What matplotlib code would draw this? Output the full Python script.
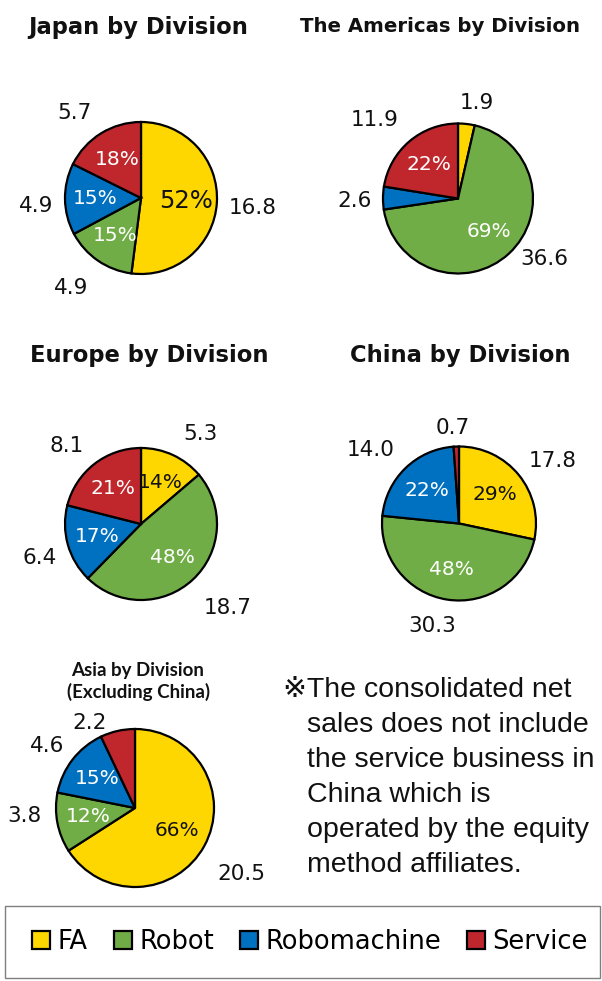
import numpy as np
import matplotlib.pyplot as plt
from matplotlib.patches import Rectangle

# Sales by division (FA, Robot, Robomachine, Service), clockwise from 12 o'clock
divisions = ['FA', 'Robot', 'Robomachine', 'Service']
colors = ['#FFD700', '#70AD47', '#0070C0', '#C0272D']

japan = [16.8, 4.9, 4.9, 5.7]
japan_pct = ['52%', '15%', '15%', '18%']
americas = [1.9, 36.6, 2.6, 11.9]
americas_pct = ['', '69%', '', '22%']
europe = [5.3, 18.7, 6.4, 8.1]
europe_pct = ['14%', '48%', '17%', '21%']
china = [17.8, 30.3, 14.0, 0.7]
china_pct = ['29%', '48%', '22%', '']
asia = [20.5, 3.8, 4.6, 2.2]
asia_pct = ['66%', '12%', '15%', '']

note_lines = ['※The consolidated net', 'sales does not include',
              'the service business in', 'China which is',
              'operated by the equity', 'method affiliates.']

W, H = 602, 981
fig = plt.figure(figsize=(W / 100, H / 100), dpi=100)


def fx(x):
    return x / W


def fy(y):
    return 1 - y / H


def draw_pie(vals, pcts, cx, cy, r, nudge, big_first=False):
    # nudge: pixel shifts (right, down) of the value labels, Excel-like placement
    ax = fig.add_axes([fx(cx - r), fy(cy + r), 2 * r / W, 2 * r / H])
    wedges, _ = ax.pie(vals, colors=colors, startangle=90, counterclock=False,
                       wedgeprops=dict(edgecolor='black', linewidth=1.6))
    ax.set_xlim(-1, 1)
    ax.set_ylim(-1, 1)
    ax.axis('off')
    for i, w in enumerate(wedges):
        ang = np.deg2rad((w.theta1 + w.theta2) / 2)
        dx, dy = np.cos(ang), np.sin(ang)
        ox, oy = nudge[i]
        ax.text(1.42 * dx + ox / r, 1.42 * dy - oy / r, '%.1f' % vals[i],
                ha='center', va='center', fontsize=15.5, color='#111111')
        if pcts[i]:
            size = 17.5 if (big_first and i == 0) else 14.5
            ax.text(0.6 * dx, 0.6 * dy, pcts[i], ha='center', va='center',
                    fontsize=size, color='#111111' if i == 0 else 'white')
    return wedges


title_kw = dict(ha='center', va='baseline', fontweight='bold', color='#111111')
fig.text(fx(138), fy(34), 'Japan by Division', fontsize=16.3, **title_kw)
fig.text(fx(440), fy(32), 'The Americas by Division', fontsize=14.2, **title_kw)
fig.text(fx(149), fy(362), 'Europe by Division', fontsize=16.3, **title_kw)
fig.text(fx(460), fy(362), 'China by Division', fontsize=16.3, **title_kw)
fig.text(fx(138), fy(676), 'Asia by Division', fontsize=13.5, family='Lato', **title_kw)
fig.text(fx(139), fy(698), '(Excluding China)', fontsize=13.5, family='Lato', **title_kw)

wedges = draw_pie(japan, japan_pct, 141, 198, 76,
                  [(4, 3), (-9, 1), (3, 6), (-10, 7)], big_first=True)
draw_pie(americas, americas_pct, 458, 198.5, 75,
         [(7, 10), (14, -18), (3, 3), (-14, 3)])
draw_pie(europe, europe_pct, 141, 524, 76,
         [(14, 8), (13, 5), (3, 5), (-8, 7)])
draw_pie(china, china_pct, 459, 523.5, 77,
         [(9, 6), (-10, -6), (-12, 5), (-2, 14)])
draw_pie(asia, asia_pct, 135, 808, 79,
         [(8, 12), (0, -13), (1, 7), (-21, 24)])

# footnote
for k, line in enumerate(note_lines):
    x = 283 if k == 0 else 307
    fig.text(fx(x), fy(697 + 35 * k), line, fontsize=20.5, va='baseline',
             family=['Liberation Sans', 'DejaVu Sans'], color='#111111')

# legend with frame
fig.patches.append(Rectangle((fx(5), fy(978)), fx(595), (978 - 906) / H,
                             transform=fig.transFigure, fill=False,
                             edgecolor='#7F7F7F', linewidth=1))
fig.legend(wedges, divisions, loc='center', bbox_to_anchor=(fx(310), fy(942)),
           ncol=4, frameon=False, fontsize=18.5, handlelength=0.7,
           handleheight=0.7, handletextpad=0.3, columnspacing=1.0)

fig.savefig('out.png', dpi=100)
